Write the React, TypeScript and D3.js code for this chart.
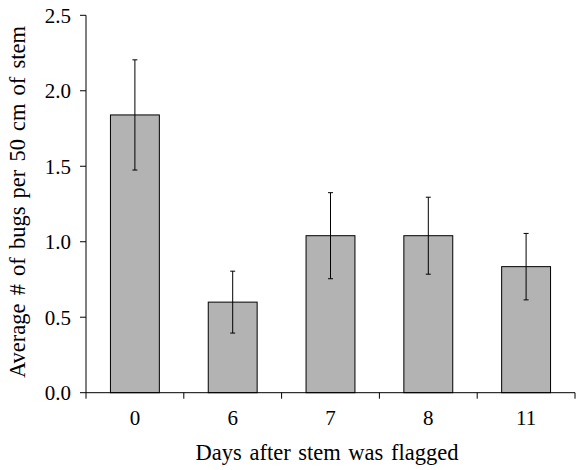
import React from "react";
import * as d3 from "d3";

const categories: string[] = ["0", "6", "7", "8", "11"];
const means: number[] = [1.84, 0.6, 1.04, 1.04, 0.835];
const errors: number[] = [0.365, 0.205, 0.285, 0.255, 0.22];
const yTicks: number[] = [0, 0.5, 1.0, 1.5, 2.0, 2.5];

const W = 576;
const H = 470;
const left = 86;
const right = 575;
const top = 15.3;
const bottom = 392.7;

const font = "Liberation Serif, Times New Roman, serif";

export default function App() {
  const x = d3.scaleBand<string>().domain(categories).range([left, right]).paddingInner(0.5).paddingOuter(0.25);
  const band = d3.scaleBand<string>().domain(categories).range([left, right]);
  const y = d3.scaleLinear().domain([0, 2.5]).range([bottom, top]);
  const cap = 2.5;
  return (
    <svg width={W} height={H} style={{ position: "absolute", left: 0, top: 0 }}>
      <rect x={0} y={0} width={W} height={H} fill="#fff" />
      {categories.map((c, i) => (
        <rect key={c} x={x(c)} y={y(means[i])} width={x.bandwidth()} height={bottom - y(means[i])}
          fill="#b3b3b3" stroke="#000" strokeWidth={1} />
      ))}
      {categories.map((c, i) => {
        const cx = (x(c) as number) + x.bandwidth() / 2;
        const y1 = y(means[i] + errors[i]);
        const y2 = y(means[i] - errors[i]);
        return (
          <g key={"e" + c} stroke="#000" strokeWidth={1}>
            <line x1={cx} x2={cx} y1={y1} y2={y2} />
            <line x1={cx - cap} x2={cx + cap} y1={y1} y2={y1} />
            <line x1={cx - cap} x2={cx + cap} y1={y2} y2={y2} />
          </g>
        );
      })}
      <line x1={left} x2={left} y1={top} y2={bottom} stroke="#000" />
      {yTicks.map((t) => (
        <g key={"y" + t}>
          <line x1={left - 6} x2={left} y1={y(t)} y2={y(t)} stroke="#000" />
          <text x={71} y={y(t)} dy="0.35em" textAnchor="end" fontSize={21} fontFamily={font}>{t.toFixed(1)}</text>
        </g>
      ))}
      <line x1={left} x2={right} y1={bottom} y2={bottom} stroke="#000" />
      {categories.map((c) => (
        <line key={"t" + c} x1={band(c)} x2={band(c)} y1={bottom} y2={bottom + 6} stroke="#000" />
      ))}
      <line x1={right} x2={right} y1={bottom} y2={bottom + 6} stroke="#000" />
      {categories.map((c) => (
        <text key={"l" + c} x={(band(c) as number) + band.bandwidth() / 2} y={425} textAnchor="middle" fontSize={21} fontFamily={font}>{c}</text>
      ))}
      <text x={327} y={460} textAnchor="middle" fontSize={22.5} fontFamily={font} wordSpacing={2}>Days after stem was flagged</text>
      <text transform={`translate(25,202) rotate(-90)`} textAnchor="middle" fontSize={22.5} fontFamily={font} wordSpacing={2.5}>Average # of bugs per 50 cm of stem</text>
    </svg>
  );
}
